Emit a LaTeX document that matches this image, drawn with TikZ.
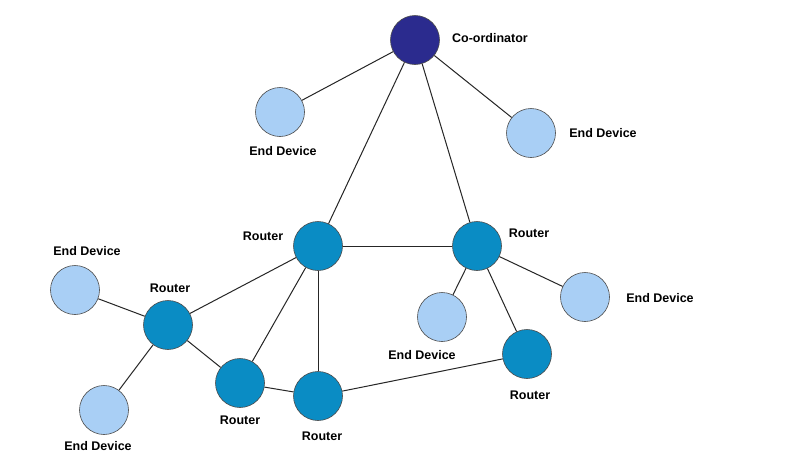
\documentclass[tikz,border=0pt]{standalone}
\usepackage{fontspec}
\setmainfont{Liberation Sans}
\definecolor{cco}{HTML}{2B2B8E}
\definecolor{crt}{HTML}{0A8CC4}
\definecolor{ced}{HTML}{A9CFF5}
\begin{document}
\begin{tikzpicture}[x=1pt,y=-1pt,
  nd/.style={circle,draw=black!70,line width=0.6pt,minimum size=49pt,inner sep=0pt},
  coord/.style={nd,fill=cco},
  rt/.style={nd,fill=crt},
  ed/.style={nd,fill=ced},
  lb/.style={font=\bfseries\fontsize{12.5}{14}\selectfont},
  ln/.style={line width=1pt,black!85}]
\useasboundingbox[fill=white] (0,0) rectangle (799,472);
\node[coord] (c) at (415,40) {};
\node[ed] (e1) at (280,112) {};
\node[ed] (e2) at (531,133) {};
\node[rt] (r1) at (318,246) {};
\node[rt] (r2) at (477,246) {};
\node[ed] (e3) at (75,290) {};
\node[rt] (r3) at (168,325) {};
\node[ed] (e4) at (585,297) {};
\node[ed] (e5) at (442,317) {};
\node[rt] (r4) at (240,383) {};
\node[rt] (r5) at (318,396) {};
\node[rt] (r6) at (527,354) {};
\node[ed] (e6) at (104,410) {};
\node[lb] (lc) at (490,38) {Co-ordinator};
\node[lb] (l1) at (283,151) {End Device};
\node[lb] (l2) at (603,133) {End Device};
\node[lb] (l3) at (263,236) {Router};
\node[lb] (l4) at (529,233) {Router};
\node[lb] (l5) at (87,251) {End Device};
\node[lb] (l6) at (170,288) {Router};
\node[lb] (l7) at (660,298) {End Device};
\node[lb] (l8) at (422,355) {End Device};
\node[lb] (l9) at (240,420) {Router};
\node[lb] (l10) at (322,436) {Router};
\node[lb] (l11) at (530,395) {Router};
\node[lb] (l12) at (98,446) {End Device};
\foreach \a/\b in {c/e1,c/e2,c/r1,c/r2,r1/r2,r1/r3,r1/r4,r1/r5,r3/e3,r3/e6,r3/r4,r4/r5,r5/r6,r2/e5,r2/e4,r2/r6}
  \draw[ln] (\a) -- (\b);
\end{tikzpicture}
\end{document}
